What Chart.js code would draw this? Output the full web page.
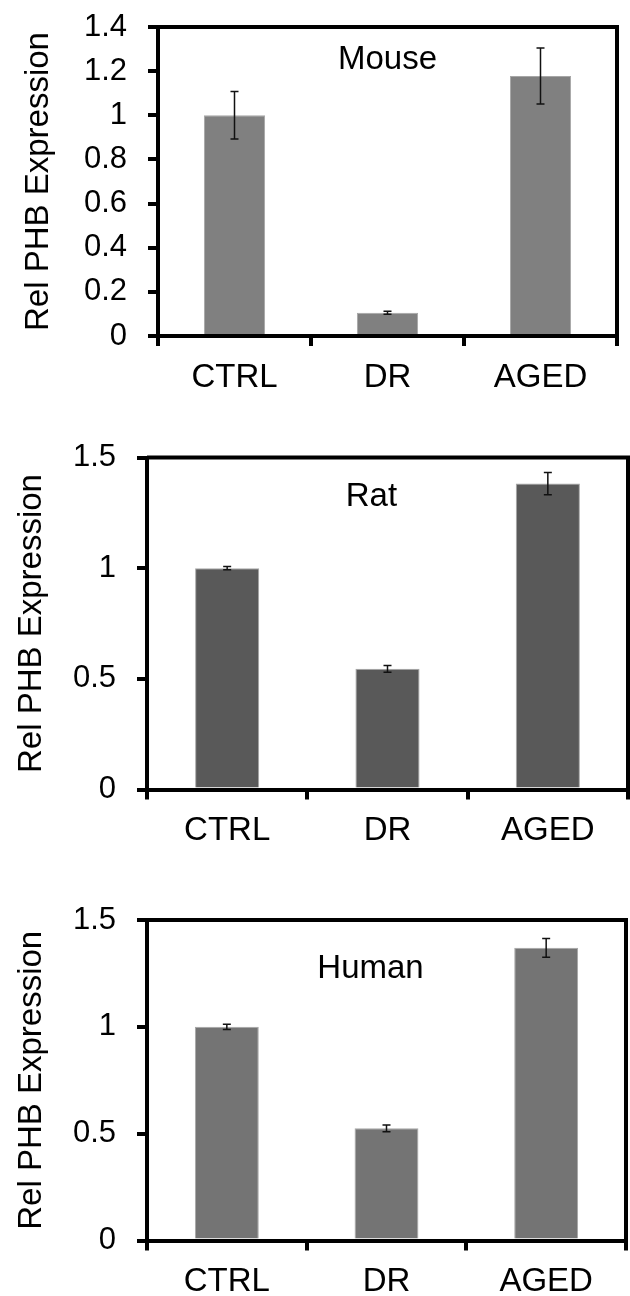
<!DOCTYPE html>
<html>
<head>
<meta charset="utf-8">
<script src="https://cdn.jsdelivr.net/npm/chart.js@4.4.1/dist/chart.umd.min.js"></script>
<style>
  body { margin: 0; background: #fff; }
  .page { position: relative; width: 630px; height: 1296px; overflow: hidden; }
  .panel { position: absolute; left: 0; width: 630px; }
</style>
</head>
<body>
<div class="page">
  <div class="panel" style="top:-14px;height:434px"><canvas id="mouseChart"></canvas></div>
  <div class="panel" style="top:416px;height:434px"><canvas id="ratChart"></canvas></div>
  <div class="panel" style="top:850px;height:446px"><canvas id="humanChart"></canvas></div>
</div>
<script>
// data
const categories = ["CTRL", "DR", "AGED"];

const mouseValues = [1.0, 0.105, 1.178];
const mouseErrors = [0.108, 0.007, 0.127];
const mouseTicks = [0, 0.2, 0.4, 0.6, 0.8, 1, 1.2, 1.4];

const ratValues = [1.0, 0.545, 1.382];
const ratErrors = [0.007, 0.015, 0.05];
const ratTicks = [0, 0.5, 1, 1.5];

const humanValues = [1.0, 0.525, 1.37];
const humanErrors = [0.012, 0.016, 0.044];
const humanTicks = [0, 0.5, 1, 1.5];

const yTitle = "Rel PHB Expression";
const FONT = "'Liberation Sans', Arial, sans-serif";

// error bars, frame (top + right lines) and the species label
const extrasPlugin = {
  id: "extras",
  afterDatasetsDraw(chart, args, opts) {
    const { ctx, chartArea, scales } = chart;
    const y = scales.y;
    const x = scales.x;
    const meta = chart.getDatasetMeta(0);
    const values = chart.data.datasets[0].data;

    ctx.save();
    ctx.strokeStyle = "#111";
    ctx.lineWidth = 1.5;
    meta.data.forEach((bar, i) => {
      const hi = y.getPixelForValue(values[i] + opts.errors[i]);
      const lo = y.getPixelForValue(values[i] - opts.errors[i]);
      ctx.beginPath();
      ctx.moveTo(bar.x, hi);
      ctx.lineTo(bar.x, lo);
      ctx.moveTo(bar.x - 4, hi);
      ctx.lineTo(bar.x + 4, hi);
      ctx.moveTo(bar.x - 4, lo);
      ctx.lineTo(bar.x + 4, lo);
      ctx.stroke();
    });

    // box lines on top and right
    ctx.strokeStyle = "#000";
    ctx.lineWidth = 4;
    ctx.beginPath();
    ctx.moveTo(chartArea.left, chartArea.top);
    ctx.lineTo(chartArea.right, chartArea.top);
    ctx.lineTo(chartArea.right, chartArea.bottom);
    ctx.stroke();

    // label inside the plot
    ctx.fillStyle = "#000";
    ctx.font = "33px " + FONT;
    ctx.textAlign = "center";
    ctx.textBaseline = "middle";
    const lx = x.getPixelForValue(opts.labelX);
    const ly = y.getPixelForValue(opts.labelY);
    ctx.fillText(opts.label, lx, ly);
    ctx.restore();
  },
};

function makeChart(id, values, errors, color, ticks, cfg) {
  const ctx = document.getElementById(id).getContext("2d");
  return new Chart(ctx, {
    type: "bar",
    data: {
      labels: categories,
      datasets: [
        {
          data: values,
          backgroundColor: color,
          borderColor: "#a6a6a6",
          borderWidth: 1,
          barPercentage: 0.4,
          categoryPercentage: 1,
        },
      ],
    },
    options: {
      responsive: true,
      maintainAspectRatio: false,
      animation: false,
      layout: {
        padding: { top: cfg.top, right: cfg.right, left: 0, bottom: 0 },
      },
      plugins: {
        legend: { display: false },
        tooltip: { enabled: false },
        extras: {
          errors,
          label: cfg.label,
          labelX: cfg.labelX,
          labelY: cfg.labelY,
        },
      },
      scales: {
        x: {
          grid: {
            drawOnChartArea: false,
            tickLength: 10,
            lineWidth: 4,
            color: "#000",
          },
          border: { display: true, width: 4, color: "#000" },
          ticks: {
            color: "#000",
            font: { family: FONT, size: 33 },
            padding: 12,
            maxRotation: 0,
          },
          afterFit: (s) => {
            s.height = cfg.xHeight;
          },
        },
        y: {
          min: 0,
          max: ticks[ticks.length - 1],
          afterBuildTicks: (s) => {
            s.ticks = ticks.map((v) => ({ value: v }));
          },
          grid: {
            drawOnChartArea: false,
            tickLength: 10,
            lineWidth: 4,
            color: "#000",
          },
          border: { display: true, width: 4, color: "#000" },
          ticks: {
            color: "#000",
            font: { family: FONT, size: 31 },
            padding: 21,
            callback: (v) => String(+Number(v).toFixed(2)),
          },
          title: {
            display: true,
            text: yTitle,
            color: "#000",
            font: { family: FONT, size: 33 },
            padding: { top: cfg.titlePad, bottom: 0 },
          },
          afterFit: (s) => {
            s.width = cfg.yWidth;
          },
        },
      },
    },
    plugins: [extrasPlugin],
  });
}

makeChart("mouseChart", mouseValues, mouseErrors, "#808080", mouseTicks, {
  top: 41, right: 13, yWidth: 158, xHeight: 84, titlePad: 19,
  label: "Mouse", labelX: 1, labelY: 1.25,
});

makeChart("ratChart", ratValues, ratErrors, "#595959", ratTicks, {
  top: 41.5, right: 2, yWidth: 147, xHeight: 60.5, titlePad: 12,
  label: "Rat", labelX: 0.9, labelY: 1.32,
});

makeChart("humanChart", humanValues, humanErrors, "#747474", humanTicks, {
  top: 70, right: 4, yWidth: 147, xHeight: 55.5, titlePad: 12,
  label: "Human", labelX: 0.9, labelY: 1.27,
});
</script>
</body>
</html>
